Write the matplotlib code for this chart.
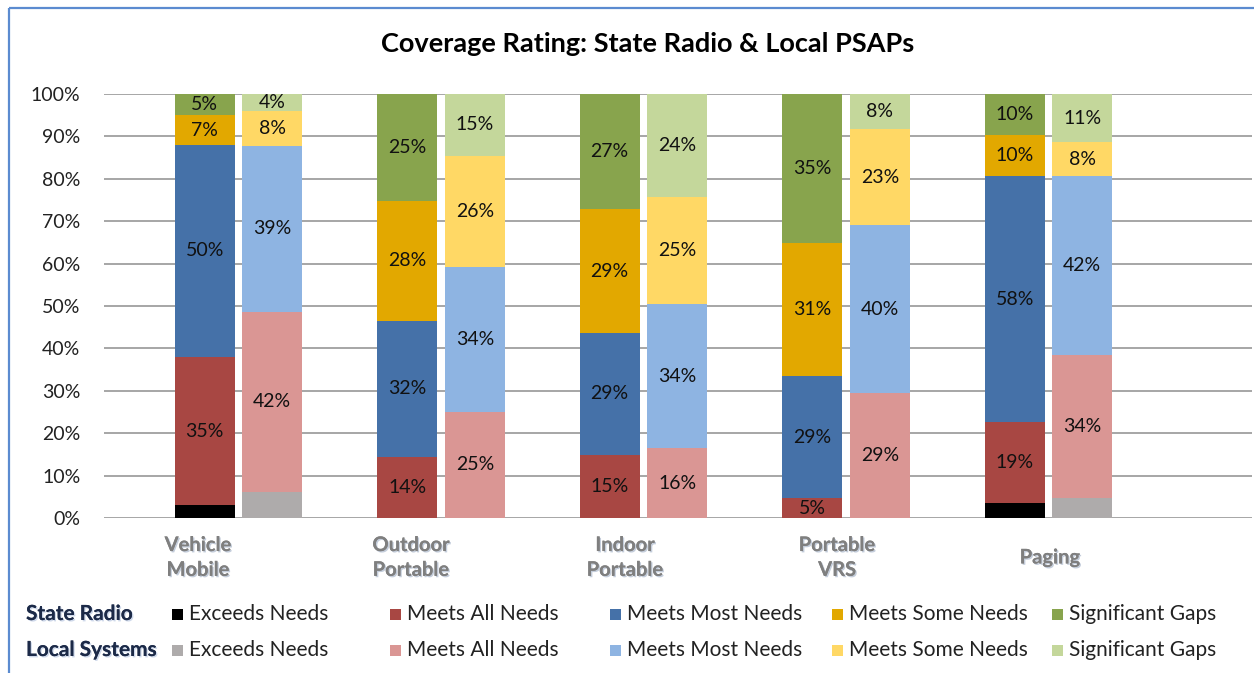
import matplotlib
matplotlib.use("Agg")
import matplotlib.pyplot as plt
from matplotlib.patches import Rectangle
import matplotlib.patheffects as pe
import numpy as np

# ---------------- data ----------------
categories = ["Vehicle\nMobile", "Outdoor\nPortable", "Indoor\nPortable", "Portable\nVRS", "Paging"]
series_names = ["Exceeds Needs", "Meets All Needs", "Meets Most Needs", "Meets Some Needs", "Significant Gaps"]

state_exceeds = [3.0, 0.0, 0.0, 0.0, 3.5]
state_all = [35.0, 14.4, 14.9, 4.7, 19.1]
state_most = [50.0, 32.1, 28.7, 28.8, 58.1]
state_some = [7.0, 28.3, 29.3, 31.4, 9.6]
state_gaps = [5.0, 25.2, 27.1, 35.1, 9.7]

local_exceeds = [6.2, 0.0, 0.0, 0.0, 4.7]
local_all = [42.4, 25.0, 16.4, 29.4, 33.8]
local_most = [39.2, 34.2, 34.1, 39.6, 42.2]
local_some = [8.3, 26.2, 25.2, 22.7, 7.9]
local_gaps = [3.9, 14.6, 24.3, 8.3, 11.4]

yticks = [0, 10, 20, 30, 40, 50, 60, 70, 80, 90, 100]
title = "Coverage Rating: State Radio & Local PSAPs"
row_labels = ["State Radio", "Local Systems"]

# ---------------- style ----------------
state_colors = ["#000000", "#A84743", "#4571A8", "#E2A800", "#88A44D"]
local_colors = ["#AEABAB", "#DA9694", "#8EB4E2", "#FFD865", "#C4D79B"]
FONT = "Lato"
plt.rcParams["font.family"] = [FONT, "DejaVu Sans"]

W, H = 1254, 673
fig = plt.figure(figsize=(W / 100, H / 100), dpi=100)
fig.patch.set_facecolor("white")

ax = fig.add_axes([104 / W, (H - 518) / H, (1252 - 104) / W, (518 - 94) / H])
x = np.arange(len(categories))
bw = 0.296
off = 0.167

state = [state_exceeds, state_all, state_most, state_some, state_gaps]
local = [local_exceeds, local_all, local_most, local_some, local_gaps]

for vals_list, colors, dx in [(state, state_colors, -off), (local, local_colors, off)]:
    bottom = np.zeros(len(categories))
    for si, (vals, col) in enumerate(zip(vals_list, colors)):
        v = np.array(vals, dtype=float)
        ax.bar(x + dx, v, bw, bottom=bottom, color=col, zorder=3, linewidth=0)
        if si > 0:
            for xi, (vv, bb) in enumerate(zip(v, bottom)):
                if vv >= 3.5:
                    ax.text(xi + dx, bb + vv / 2, f"{int(round(vv))}%", ha="center", va="center",
                            fontsize=14, color="#111111", zorder=4)
        bottom += v

ax.set_xlim(-0.664, 5.005)
ax.set_ylim(0, 100)
ax.set_yticks(yticks)
ax.set_yticklabels([f"{t}%" for t in yticks], fontsize=14, color="#222222")
ax.tick_params(axis="y", length=0, pad=17)
ax.set_xticks([])
for s in ax.spines.values():
    s.set_visible(False)
ax.yaxis.grid(True, color="#A6A6A6", linewidth=1.4, zorder=0)
ax.set_axisbelow(True)

# category labels (manually placed like the original text boxes)
label_shift = [-0.20, -0.148, -0.091, -0.044, 0.007]
for xi, (lab, sh) in enumerate(zip(categories, label_shift)):
    ax.text(xi + sh, -9.3, lab, ha="center", va="center", fontsize=14.5, fontweight="bold",
            color="#7F7F7F", linespacing=1.3, transform=ax.transData, clip_on=False,
            path_effects=[pe.withSimplePatchShadow(offset=(1, -1), shadow_rgbFace="#8a9cb8", alpha=0.5),
                          pe.Normal()])

# overlay for title, legend, border
ov = fig.add_axes([0, 0, 1, 1])
ov.set_xlim(0, W)
ov.set_ylim(H, 0)
ov.axis("off")

ov.text(648, 44, title, ha="center", va="center", fontsize=19.5, fontweight="bold", color="#000000")

ov.add_patch(Rectangle((9, 8), 1400, 800, fill=False, edgecolor="#5B8BD0", linewidth=1.6))

row_y = [614, 650]
sq_x = [172, 390, 610, 832, 1052]
for ri, (rl, colors) in enumerate(zip(row_labels, [state_colors, local_colors])):
    yy = row_y[ri]
    ov.text(26, yy, rl, ha="left", va="center", fontsize=15, fontweight="bold", color="#1C2A48",
            path_effects=[pe.withSimplePatchShadow(offset=(1, -1), shadow_rgbFace="#9fb3d6", alpha=0.5),
                          pe.Normal()])
    for sx, name, col in zip(sq_x, series_names, colors):
        ov.add_patch(Rectangle((sx, yy - 5.5), 11, 11, facecolor=col, edgecolor="none"))
        ov.text(sx + 17, yy, name, ha="left", va="center", fontsize=15, color="#222222")

fig.savefig("out.png", dpi=100, facecolor="white")
